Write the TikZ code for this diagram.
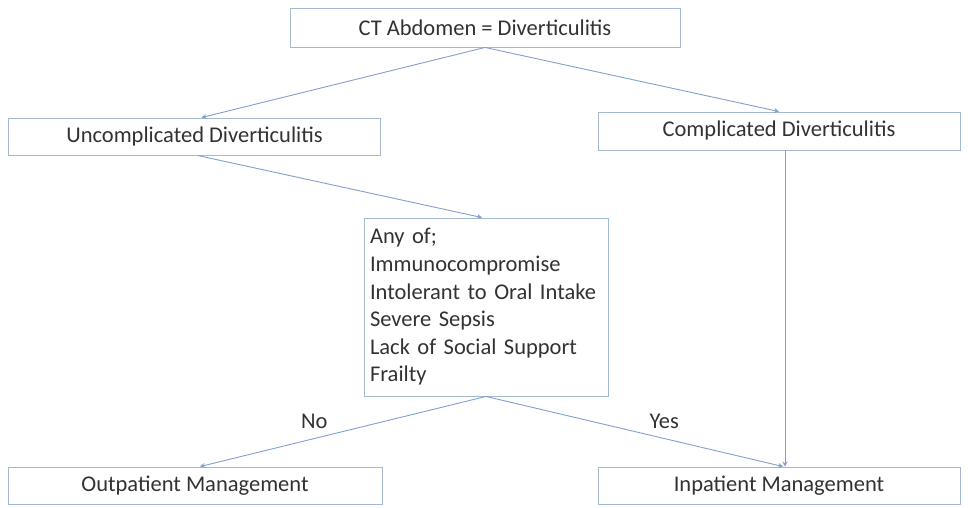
\documentclass[tikz,border=0pt]{standalone}
\usepackage{fontspec}
\setmainfont{Carlito}
\usetikzlibrary{arrows.meta}
\definecolor{boxline}{RGB}{165,185,210}
\definecolor{arrline}{RGB}{130,160,205}
\definecolor{txt}{RGB}{50,50,50}

\begin{document}
\begin{tikzpicture}[x=1pt, y=-1pt, thick,
    box/.style = {draw=boxline, line width=0.9pt, rectangle, text=txt, inner sep=0pt,
                  font=\fontsize{22.5}{27}\selectfont},
    arr/.style = {draw=arrline, line width=0.9pt, -{Stealth[length=5pt,width=5pt]}},
    lbl/.style = {text=txt, font=\fontsize{22.5}{27}\selectfont}]
    \useasboundingbox (0,0) rectangle (968,508);
    \node[box, minimum width=390, minimum height=39] (ct) at (485,27.5) {CT Abdomen = Diverticulitis};
    \node[box, minimum width=372, minimum height=37] (uncomp) at (194.5,136.5) {Uncomplicated Diverticulitis};
    \node[box, minimum width=362, minimum height=38] (comp) at (779,131) {Complicated Diverticulitis};
    \node[box, minimum width=244, minimum height=178, align=left, text width=232,
          font=\fontsize{22.5}{27.6}\selectfont] (anyof) at (486,307)
        {Any of;\\Immunocompromise\\Intolerant to Oral Intake\\Severe Sepsis\\Lack of Social Support\\Frailty};
    \node[box, minimum width=374, minimum height=37] (outpat) at (195,485.5) {Outpatient Management};
    \node[box, minimum width=362, minimum height=37] (inpat) at (779,485.5) {Inpatient Management};
    \draw[arr] (ct.south) -- ([xshift=7]uncomp.north);
    \draw[arr] (ct.south) -- (comp.north);
    \draw[arr] ([xshift=3]uncomp.south) -- ([xshift=-4]anyof.north);
    \draw[arr] ([xshift=6]comp.south) -- ([xshift=6]inpat.north);
    \draw[arr] (anyof.south) -- ([xshift=5]outpat.north) node[lbl, pos=0.6, above=6pt] (no) {No};
    \draw[arr] (anyof.south) -- ([xshift=4]inpat.north) node[lbl, pos=0.6, above=6pt] (yes) {Yes};
\end{tikzpicture}
\end{document}
